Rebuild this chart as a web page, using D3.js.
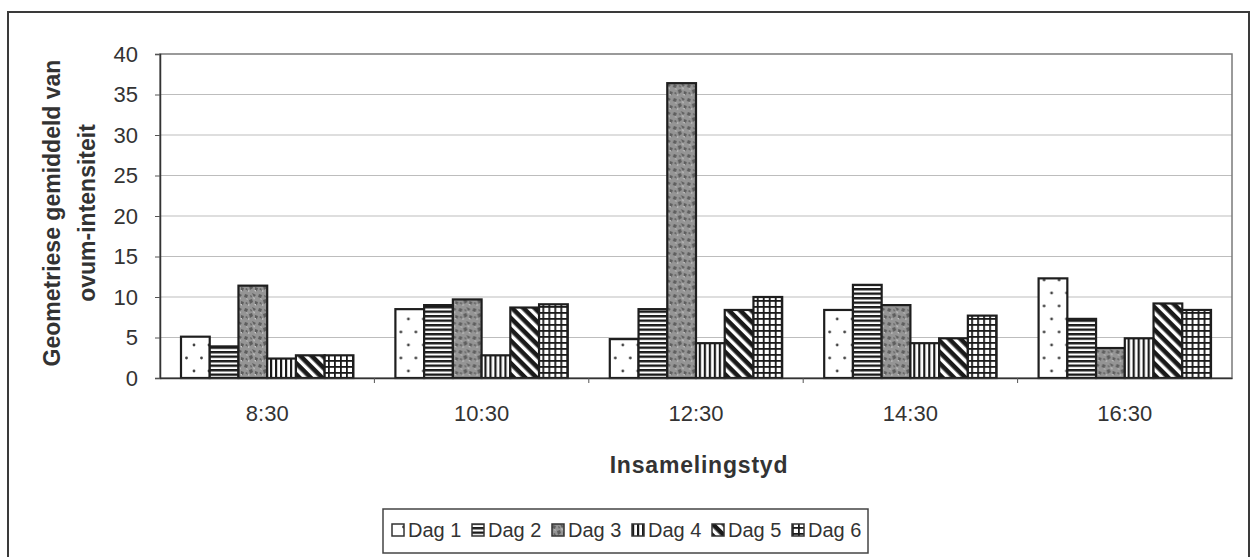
<!DOCTYPE html>
<meta charset="utf-8">
<script src="https://d3js.org/d3.v7.min.js"></script>
<style>
  body { margin: 0; background: #fff; }
  text { font-family: "Liberation Sans", Arial, sans-serif; fill: #333; }
</style>
<div id="chart"></div>
<script>
  // data
  var categories = ["8:30", "10:30", "12:30", "14:30", "16:30"];
  var seriesNames = ["Dag 1", "Dag 2", "Dag 3", "Dag 4", "Dag 5", "Dag 6"];
  var dag1 = [5.1, 8.5, 4.8, 8.4, 12.3];
  var dag2 = [3.9, 9.0, 8.5, 11.5, 7.3];
  var dag3 = [11.4, 9.7, 36.4, 9.0, 3.7];
  var dag4 = [2.4, 2.8, 4.3, 4.3, 4.9];
  var dag5 = [2.8, 8.7, 8.4, 4.9, 9.2];
  var dag6 = [2.8, 9.1, 10.0, 7.7, 8.4];
  var yTicks = [0, 5, 10, 15, 20, 25, 30, 35, 40];
  var allSeries = [dag1, dag2, dag3, dag4, dag5, dag6];

  var W = 1255, H = 557;
  var margin = { top: 54, right: 23, bottom: 179, left: 160 },
    width = W - margin.left - margin.right,
    height = H - margin.top - margin.bottom;

  var svg = d3.select("#chart").append("svg")
    .attr("width", W).attr("height", H);

  // patterns
  var defs = svg.append("defs");
  function pat(id, w, h) {
    return defs.append("pattern").attr("id", id)
      .attr("patternUnits", "userSpaceOnUse")
      .attr("width", w).attr("height", h);
  }
  // dots
  var p1 = pat("p1", 15, 26);
  p1.append("rect").attr("width", 15).attr("height", 26).attr("fill", "#fff");
  p1.append("circle").attr("cx", 4).attr("cy", 5).attr("r", 1.4).attr("fill", "#444");
  p1.append("circle").attr("cx", 11.5).attr("cy", 18).attr("r", 1.4).attr("fill", "#444");
  // horizontal stripes
  var p2 = pat("p2", 8, 4.5);
  p2.append("rect").attr("width", 8).attr("height", 4.5).attr("fill", "#fff");
  p2.append("rect").attr("width", 8).attr("height", 2.4).attr("fill", "#1a1a1a");
  // mottled gray
  var p3 = pat("p3", 14, 14);
  p3.append("rect").attr("width", 14).attr("height", 14).attr("fill", "#959595");
  p3.append("path").attr("d", "M1,2 l3,1 l-1,3 l-3,-1z M8,1 l4,2 l-2,2z M5,8 l3,-1 l1,3 l-3,2z M11,9 l3,1 l-1,3 l-2,-1z M1,11 l2,-1 l1,3z M6,3 l2,1 l-1,2z")
    .attr("fill", "#5e5e5e");
  p3.append("path").attr("d", "M9,5 l2,1 l-1,2z M2,6 l2,1 l-1,1z M10,12 l2,0 l0,2z M4,12 l2,1 l-2,1z")
    .attr("fill", "#c4c4c4");
  // vertical stripes
  var p4 = pat("p4", 5, 8);
  p4.append("rect").attr("width", 5).attr("height", 8).attr("fill", "#fff");
  p4.append("rect").attr("width", 2.2).attr("height", 8).attr("fill", "#1a1a1a");
  // diagonal stripes
  var p5 = pat("p5", 8, 8).attr("patternTransform", "rotate(45)");
  p5.append("rect").attr("width", 8).attr("height", 8).attr("fill", "#fff");
  p5.append("rect").attr("width", 8).attr("height", 4.6).attr("fill", "#1a1a1a");
  // grid
  var p6 = pat("p6", 6, 6);
  p6.append("rect").attr("width", 6).attr("height", 6).attr("fill", "#fff");
  p6.append("rect").attr("width", 6).attr("height", 1.8).attr("fill", "#1a1a1a");
  p6.append("rect").attr("width", 1.8).attr("height", 6).attr("fill", "#1a1a1a");
  var fills = ["url(#p1)", "url(#p2)", "url(#p3)", "url(#p4)", "url(#p5)", "url(#p6)"];

  // outer frame
  svg.append("rect").attr("x", 8).attr("y", 12).attr("width", 1241).attr("height", 560)
    .attr("fill", "none").attr("stroke", "#3a3a3a").attr("stroke-width", 2);

  var g = svg.append("g").attr("transform", "translate(" + margin.left + "," + margin.top + ")");

  var x0 = d3.scaleBand().domain(categories).range([0, width]);
  var x1 = d3.scaleBand().domain(seriesNames).range([21, x0.bandwidth() - 21]);
  var y = d3.scaleLinear().domain([0, 40]).range([height, 0]);

  // gridlines
  g.selectAll(".grid").data(yTicks.slice(1, -1)).enter().append("line")
    .attr("x1", 0).attr("x2", width)
    .attr("y1", function (d) { return y(d); }).attr("y2", function (d) { return y(d); })
    .attr("stroke", "#bdbdbd").attr("stroke-width", 1);

  // plot area border
  g.append("rect").attr("width", width).attr("height", height)
    .attr("fill", "none").attr("stroke", "#7a7a7a").attr("stroke-width", 1.5);

  // bars
  var groups = g.selectAll(".grp").data(categories).enter().append("g")
    .attr("transform", function (d) { return "translate(" + x0(d) + ",0)"; });
  groups.selectAll("rect").data(function (c, i) {
    return allSeries.map(function (s, k) { return { name: seriesNames[k], k: k, v: s[i] }; });
  }).enter().append("rect")
    .attr("x", function (d) { return x1(d.name); })
    .attr("y", function (d) { return y(d.v); })
    .attr("width", x1.bandwidth())
    .attr("height", function (d) { return height - y(d.v); })
    .attr("fill", function (d) { return fills[d.k]; })
    .attr("stroke", "#1e1e1e").attr("stroke-width", 2.2);

  // y axis
  var yAxis = g.append("g").call(d3.axisLeft(y).tickValues(yTicks).tickSize(5).tickPadding(17));
  yAxis.select(".domain").attr("stroke", "#333").attr("stroke-width", 1.5);
  yAxis.selectAll(".tick line").attr("stroke", "#555");
  yAxis.selectAll("text").attr("font-size", 22).attr("fill", "#333")
    .style("font-family", "'Liberation Sans', Arial, sans-serif");

  // x axis
  var xAxis = g.append("g").attr("transform", "translate(0," + height + ")")
    .call(d3.axisBottom(x0).tickSize(0).tickPadding(27));
  xAxis.select(".domain").attr("stroke", "#333").attr("stroke-width", 1.5);
  xAxis.selectAll("text").attr("font-size", 22).attr("fill", "#333")
    .style("font-family", "'Liberation Sans', Arial, sans-serif");
  g.selectAll(".xtick").data(categories.slice(1)).enter().append("line")
    .attr("x1", function (d) { return x0(d); }).attr("x2", function (d) { return x0(d); })
    .attr("y1", height).attr("y2", height + 5).attr("stroke", "#555");

  // axis titles
  svg.append("text").attr("x", 699).attr("y", 473).attr("text-anchor", "middle")
    .attr("font-size", 23).attr("font-weight", "bold").attr("letter-spacing", 0.8)
    .text("Insamelingstyd");
  var yt = svg.append("text").attr("transform", "translate(60,213) rotate(-90)")
    .attr("text-anchor", "middle").attr("font-size", 23).attr("font-weight", "bold");
  yt.append("tspan").attr("x", 0).attr("y", 0).text("Geometriese gemiddeld van");
  yt.append("tspan").attr("x", 0).attr("y", 35).text("ovum-intensiteit");

  // legend
  var legend = svg.append("g").attr("transform", "translate(383,509)");
  legend.append("rect").attr("width", 485).attr("height", 44)
    .attr("fill", "#fff").attr("stroke", "#444").attr("stroke-width", 1.5);
  var items = legend.selectAll(".item").data(seriesNames).enter().append("g")
    .attr("transform", function (d, i) { return "translate(" + (9 + i * 80) + ",0)"; });
  items.append("rect").attr("y", 15).attr("width", 12).attr("height", 12)
    .attr("fill", function (d, i) { return fills[i]; })
    .attr("stroke", "#333").attr("stroke-width", 1.5);
  items.append("text").attr("x", 16).attr("y", 28).attr("font-size", 20)
    .text(function (d) { return d; });
</script>
